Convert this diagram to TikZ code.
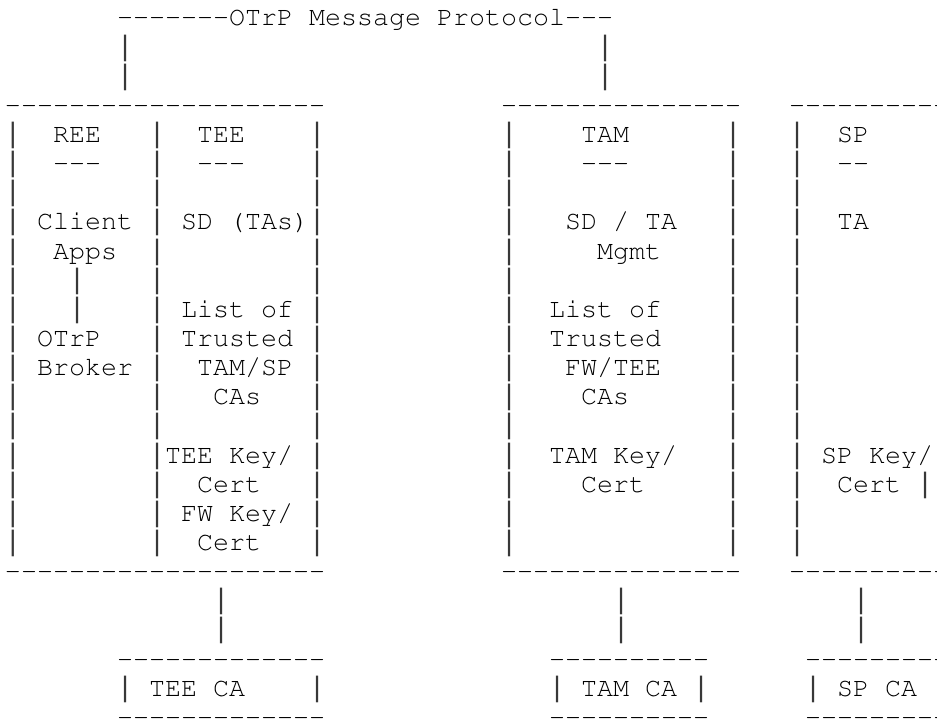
\documentclass[tikz,border=0pt]{standalone}
\usepackage[T1]{fontenc}
\usepackage{fontspec}
% Courier-style typewriter face, 16pt per character cell
\newcommand\asciifont{\fontencoding{T1}\fontfamily{pcr}\fontseries{m}\fontshape{n}\fontsize{26.67}{29.14}\selectfont}
% the vertical strokes come from a face whose bar fills the whole row
\newfontfamily\barfam{DejaVu Sans Mono}
\newcommand\barfont{\barfam\fontsize{26.67}{29.14}\selectfont}
% a run of n hyphens, kept apart so that no ligature forms
\newcommand\dashrun[1]{\foreach \i in {1,...,#1}{-\kern0pt}}
% character cell: 16pt wide, rows 29.14pt apart
\newcommand\putcell[4]{\node[ch] (#1) at ({5+16*(#2)},{694-29.14*(#3)}) {#4};}
\newcommand\putbar[3]{\node[ch, font=\barfont, text=black!78] (#1) at ({5+16*(#2)},{694-29.14*(#3)}) {|};}
\tikzset{
  ch/.style={anchor=base west, inner sep=0pt, outer sep=0pt, font=\asciifont, text=black},
}
\begin{document}
\begin{tikzpicture}[x=1pt,y=1pt]
\path[use as bounding box, clip] (0,0) rectangle (937,720);

% protocol line and its two drops
\putcell{protocol}{7}{0}{\dashrun{7}OTrP Message Protocol\dashrun{3}}
\foreach \r in {1,2} {
  \foreach \c in {7,37} { \putbar{drop-\c-\r}{\c}{\r} }
}

% box outlines
\foreach \r/\s in {3/top,19/bot} {
  \putcell{dev-\s}{0}{\r}{\dashrun{20}}
  \putcell{tam-\s}{31}{\r}{\dashrun{15}}
  \putcell{sp-\s}{49}{\r}{\dashrun{10}}
}
\foreach \r in {4,...,18} {
  \foreach \c in {0,9,19,31,45,49} { \putbar{side-\c-\r}{\c}{\r} }
}

% device: REE / TEE
\putcell{ree}{3}{4}{REE}
\putcell{ree-rule}{3}{5}{\dashrun{3}}
\putcell{apps1}{2}{7}{Client}
\putcell{apps2}{3}{8}{Apps}
\foreach \r in {9,10} { \putbar{link-\r}{4}{\r} }
\putcell{broker1}{2}{11}{OTrP}
\putcell{broker2}{2}{12}{Broker}

\putcell{tee}{12}{4}{TEE}
\putcell{tee-rule}{12}{5}{\dashrun{3}}
\putcell{sd}{11}{7}{SD (TAs)}
\putcell{teelist1}{11}{10}{List of}
\putcell{teelist2}{11}{11}{Trusted}
\putcell{teelist3}{12}{12}{TAM/SP}
\putcell{teelist4}{13}{13}{CAs}
\putcell{teekey1}{10}{15}{TEE Key/}
\putcell{teekey2}{12}{16}{Cert}
\putcell{fwkey1}{11}{17}{FW Key/}
\putcell{fwkey2}{12}{18}{Cert}

% TAM
\putcell{tam}{36}{4}{TAM}
\putcell{tam-rule}{36}{5}{\dashrun{3}}
\putcell{mgmt1}{35}{7}{SD / TA}
\putcell{mgmt2}{37}{8}{Mgmt}
\putcell{tamlist1}{34}{10}{List of}
\putcell{tamlist2}{34}{11}{Trusted}
\putcell{tamlist3}{35}{12}{FW/TEE}
\putcell{tamlist4}{36}{13}{CAs}
\putcell{tamkey1}{34}{15}{TAM Key/}
\putcell{tamkey2}{36}{16}{Cert}

% SP
\putcell{sp}{52}{4}{SP}
\putcell{sp-rule}{52}{5}{\dashrun{2}}
\putcell{spta}{52}{7}{TA}
\putcell{spkey1}{51}{15}{SP Key/}
\putcell{spkey2}{52}{16}{Cert}
\putbar{spkey-bar}{57}{16}

% links down to the CAs
\foreach \r in {20,21} {
  \foreach \c in {13,38,53} { \putbar{ca-link-\c-\r}{\c}{\r} }
}

% CA boxes
\foreach \r/\s in {22/top,24/bot} {
  \putcell{teeca-\s}{7}{\r}{\dashrun{13}}
  \putcell{tamca-\s}{34}{\r}{\dashrun{10}}
  \putcell{spca-\s}{50}{\r}{\dashrun{9}}
}
\foreach \c in {7,19,34,43,50} { \putbar{ca-side-\c}{\c}{23} }
\putcell{teeca}{9}{23}{TEE CA}
\putcell{tamca}{36}{23}{TAM CA}
\putcell{spca}{52}{23}{SP CA}
\end{tikzpicture}
\end{document}
